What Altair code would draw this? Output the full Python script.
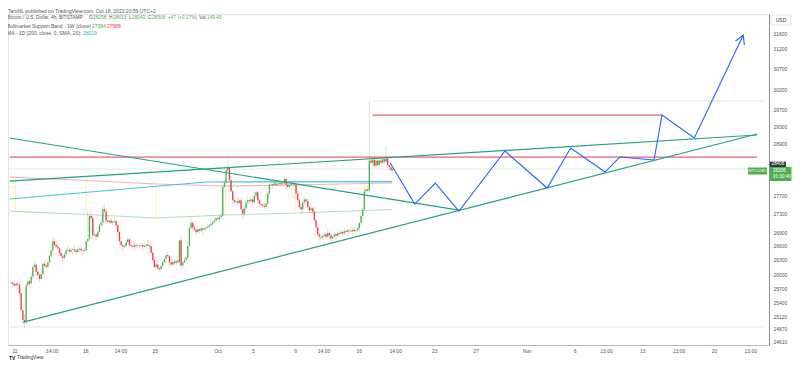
import altair as alt
import pandas as pd

# ---------------- data ----------------
# 4h BTCUSD closes, first candle = Sep 10 16:00 (day -1/3), day 0 = Sep 11 00:00
closes = [
    25820, 25790, 25760, 25800, 25780,
    25600, 25250, 25050, 25000,
    25760, 25850, 25800, 25950,
    26150, 26200,
    26050, 25980, 25900, 26000,
    26220, 26180, 26150, 26250, 26380, 26500,
    26700, 26620, 26580, 26550, 26450, 26380, 26340,
    26420, 26500, 26520,
    26480, 26510, 26530, 26500, 26470, 26520, 26540, 26500, 26490, 26510,
    26700, 26750, 27250, 27200, 26830, 26850, 26800, 26900, 27050, 27100, 27400,
    27350, 27150,
    27120, 27150, 27100, 27130, 27140, 27050,
    26900, 26700, 26620, 26580, 26600, 26680, 26740,
    26620, 26600, 26580, 26620, 26600, 26590,
    26610, 26620, 26580, 26600, 26630, 26610, 26590,
    26450, 26300, 26150, 26200, 26120, 26100, 26170,
    26250, 26320, 26400, 26380, 26250, 26200,
    26260, 26230, 26280, 26250, 26720, 26180,
    26250, 26300, 26350, 26600, 26990, 27100,
    27000, 26950, 26900,
    26960, 26930, 26980, 26950, 26970, 27000, 27020, 27050, 27080, 27120, 27150,
    27200, 27180, 27230, 27260,
    27900, 28000, 28280, 28330,
    28050, 27800, 27600, 27560, 27580, 27540,
    27600, 27400, 27300, 27420, 27550, 27600,
    27580, 27620, 27560, 27700, 27780,
    27600, 27520, 27500, 27480, 27450, 27520, 27750, 27950,
    27960, 27940, 27980, 27950, 27970, 27990, 27960, 27980,
    28080, 27950, 27900, 27940, 27980, 27970, 27960,
    27750, 27600, 27450, 27400, 27550, 27620, 27580,
    27450, 27380, 27420, 27350,
    27160, 27000, 26850, 26800, 26780, 26820,
    26850, 26800, 26880, 26830, 26760, 26800, 26850, 26820,
    26880, 26860, 26900, 26870, 26920, 26900, 26940, 26930, 26910, 26950, 26920, 26940, 26980,
    27100, 27250, 27400, 27800, 27850, 27820,
    28500, 28450, 28520, 28380, 28500,
    28400, 28500, 28450, 28530, 28480,
    28550, 28400, 28350, 28280, 28306,
]
first_open = 25830
# upper / lower wick per candle, in units of 30 USD
wick_hi = ("2131213142" "3121312141" "2131413121" "2121312131" "2121213142"
           "3121214131" "2131213121" "2121312121" "2131212131" "2121312121"
           "3141213141" "2121312121" "3121214121" "5131213121" "2131213121"
           "3121212131" "2121312121" "3121213121" "2131212121" "3121213121"
           "2121312121" "3121313121" "2131212131")
wick_lo = ("1213121312" "1312131213" "1212131212" "1312121312" "1213121213"
           "1312131212" "1213121312" "1212131213" "1312121312" "1213131212"
           "1312131213" "1212131212" "1312121312" "1213121213" "1312131212"
           "1213121312" "1212131213" "1312121312" "1213131212" "1312131213"
           "1212131212" "1312121312" "1213121213")
high_over = {25: 26800, 46: 27350, 55: 27480, 130: 28580, 164: 28150, 215: 29950, 225: 28840}
low_over = {8: 24900, 102: 26120, 174: 27300, 192: 26700}

# drawings (day, price)
desc_day, desc_price = [-0.49, 44.46], [29026, 27383]
lowtl_day, lowtl_price = [0.88, 74.29], [25010, 29120]
uptl_day, uptl_price = [-0.49, 74.29], [28033, 29097]
res1_day, res1_price = [-0.49, 74.29], [28583, 28583]
res2_day, res2_price = [35.82, 64.77], [29571, 29571]
hiray_day, hiray_price = [35.82, 74.98], [29908, 29908]
loray_day, loray_price = [-0.49, 74.98], [24911, 24911]
last_day, last_price = [-0.49, 74.98], [28306, 28306]
band_day = [-0.49, 0.1, 7.16, 14.13, 21.1, 28.07, 35.0, 37.78]
band_red = [28124, 28117, 28044, 27965, 27920, 27943, 27977, 27988]
band_green = [27361, 27354, 27283, 27206, 27272, 27316, 27372, 27394]
ma_day, ma_price = [-0.49, 19.14, 37.78], [27628, 28011, 28019]
proj_day = [37.59, 40.04, 42.10, 44.46, 49.07, 53.29, 55.64, 59.08, 60.55, 63.98, 64.77, 68.01, 72.91]
proj_price = [28444, 27516, 27988, 27361, 28722, 27875, 28792, 28238, 28583, 28514, 29571, 29026, 31549]
arrow_day, arrow_price = [72.13, 72.91, 73.01], [31396, 31549, 31295]

ytick = [31600, 31200, 30700, 30200, 29700, 29300, 28900, 27700, 27300, 26900,
         26600, 26300, 26000, 25700, 25400, 25120, 24870, 24610]
xtick_day = [0, 3.73, 7.07, 10.6, 14.03, 20.31, 23.85, 28.07, 30.91, 34.45, 38.08,
             42.0, 46.12, 51.23, 56.04, 59.18, 62.81, 66.44, 69.97, 73.6]
xtick_lab = ["11", "14:00", "18", "14:00", "25", "Oct", "5", "9", "14:00", "16", "14:00",
             "23", "27", "Nov", "6", "13:00", "13", "13:00", "20", "13:00"]

assert len(closes) == 230 and len(wick_hi) == 230 and len(wick_lo) == 230

# ---------------- build tables ----------------
rows = []
prev = first_open
for i, c in enumerate(closes):
    o = prev
    h = high_over.get(i, max(o, c) + 30 * int(wick_hi[i]))
    l = low_over.get(i, min(o, c) - 30 * int(wick_lo[i]))
    rows.append({"day": -1 / 3 + i / 6, "open": o, "close": c, "high": h, "low": l})
    prev = c
candles = pd.DataFrame(rows)

GREEN, RED, BLUE, TEAL, CYAN = "#4caf50", "#f23645", "#2962ff", "#22a187", "#3fc6dc"
FONT = "Liberation Sans"
W, H = 761, 331

xs = alt.Scale(domain=[-0.15, 74.98], nice=False, zero=False)
ys = alt.Scale(type="log", domain=[24550, 32090], nice=False)


def X(field):
    return alt.X(field, type="quantitative", scale=xs, title=None)


def Y(field):
    return alt.Y(field, type="quantitative", scale=ys, title=None)


def line(days, prices, color, width=1.0, dash=None, opacity=1.0):
    df = pd.DataFrame({"day": days, "price": prices, "i": range(len(days))})
    kw = dict(color=color, strokeWidth=width, opacity=opacity, clip=True)
    if dash:
        kw["strokeDash"] = dash
    return alt.Chart(df).mark_line(**kw).encode(x=X("day"), y=Y("price"), order="i:Q")


expr = "''"
for v, lab in reversed(list(zip(xtick_day, xtick_lab))):
    expr = f"abs(datum.value - {v}) < 0.001 ? '{lab}' : " + expr

updown = alt.condition(alt.datum.close >= alt.datum.open, alt.value(GREEN), alt.value(RED))

layers = []
# invisible layer that carries both axes
layers.append(alt.Chart(candles).mark_point(opacity=0, size=1).encode(
    x=alt.X("day:Q", scale=xs, title=None,
            axis=alt.Axis(values=xtick_day, labelExpr=expr, labelPadding=3.5,
                          domainColor="#b2b5be", orient="bottom")),
    y=alt.Y("close:Q", scale=ys, title=None,
            axis=alt.Axis(values=ytick, format="d", orient="right", labelPadding=4,
                          domainColor="#8a8d96"))))
# faint rays
layers.append(line(loray_day, loray_price, "#d8dae0", 0.8))
layers.append(line(hiray_day, hiray_price, "#d8dae0", 0.8))
layers.append(line(last_day, last_price, "#a5d6a7", 0.8, dash=[1, 1]))

# bull market support band
band = pd.DataFrame({"day": band_day, "r": band_red, "g": band_green})
layers.append(alt.Chart(band.iloc[1:-1]).mark_rule(color="#fff2a8", strokeWidth=1, opacity=0.9).encode(
    x=X("day"), y=Y("r"), y2="g:Q"))
layers.append(line(band_day, band_red, "#f6b0b6", 1.1))
layers.append(line(band_day, band_green, "#b5dfb7", 1.1))
layers.append(line(ma_day, ma_price, CYAN, 1.1))

# horizontal resistance lines
layers.append(line(res1_day, res1_price, "#f0606a", 1.2))
layers.append(line(res2_day, res2_price, "#f0606a", 1.2))

# candles
layers.append(alt.Chart(candles).mark_rule(strokeWidth=0.8, opacity=0.3).encode(
    x=X("day"), y=Y("low"), y2="high:Q", color=updown))
layers.append(alt.Chart(candles).mark_bar(width=1.3, clip=True).encode(
    x=X("day"), y=Y("open"), y2="close:Q", color=updown))

# trend lines
layers.append(line(desc_day, desc_price, TEAL, 1.2))
layers.append(line(lowtl_day, lowtl_price, TEAL, 1.2))
layers.append(line(uptl_day, uptl_price, TEAL, 1.2))

# projection
layers.append(line(proj_day, proj_price, BLUE, 1.1))
layers.append(line(arrow_day, arrow_price, BLUE, 1.1))

one = pd.DataFrame({"a": [0]})


def box(x1, y1, x2, y2, fill, stroke=None):
    kw = dict(color=fill)
    if stroke:
        kw.update(stroke=stroke, strokeWidth=0.6)
    return alt.Chart(one).mark_rect(**kw).encode(
        x=alt.value(x1 - 8), x2=alt.value(x2 - 8), y=alt.value(y1 - 14), y2=alt.value(y2 - 14))


def text(t, px, py, color="#555", size=5, align="left", weight="normal"):
    return alt.Chart(one).mark_text(text=t, color=color, fontSize=size, align=align,
                                    baseline="middle", font=FONT, fontWeight=weight).encode(
        x=alt.value(px - 8), y=alt.value(py - 14))


G = "#555"
layers += [
    text("TaroNL published on TradingView.com, Oct 18, 2023 20:59 UTC+2", 8, 10.5),
    text("Bitcoin / U.S. Dollar, 4h, BITSTAMP", 7, 18, G, 4.8),
    text("O", 89, 18, G, 4.8), text("28258", 93, 18, GREEN, 4.8),
    text("H", 109, 18, G, 4.8), text("28433", 113, 18, GREEN, 4.8),
    text("L", 129, 18, G, 4.8), text("28242", 132, 18, GREEN, 4.8),
    text("C", 148, 18, G, 4.8), text("28306", 152, 18, GREEN, 4.8),
    text("+47 (+0.17%)", 168, 18, GREEN, 4.8),
    text("Vol", 199, 18, G, 4.8), text("149.45", 207, 18, GREEN, 4.8),
    text("Bullmarket Support Band - 1W (close)", 7, 25.5, G),
    text("27394", 92, 25.5, GREEN), text("27988", 107, 25.5, RED),
    text("MA - 1D (200, close, 0, SMA, 20)", 7, 33, G),
    text("28019", 83, 33, "#00bcd4"),
    # right price scale badges
    box(771, 15, 791, 25, "white", "#d1d4dc"),
    text("USD", 781, 20, "#333", align="center"),
    box(770, 161.5, 786, 167, "#363a45"),
    text("28408", 778, 164.3, "white", 4.6, "center"),
    box(770, 167, 791.5, 181, GREEN),
    text("28306", 773, 171, "white", 4.6),
    text("01:00:40", 773, 177, "white", 4.6),
    box(748, 167.5, 767, 174.5, GREEN),
    text("BTCUSD", 757.5, 171, "white", 4.4, "center"),
    # TradingView logo
    text("TV", 9, 357.8, "#131722", 5, weight="bold"),
    text("TradingView", 17, 357.8, "#333", 4.8),
]

chart = alt.layer(*layers).properties(
    width=W, height=H,
    padding={"left": 0, "top": 6, "right": 23, "bottom": 15},
    autosize=alt.AutoSizeParams(type="none"),
    background="white",
).configure_view(stroke="#e0e3eb", strokeWidth=1).configure_axis(
    grid=False, ticks=False, labelFontSize=5, labelColor="#555", labelFont=FONT,
    labelOverlap=False, labelFlush=False, domainColor="#999",
)

chart.save("out.html", embed_options={"renderer": "svg", "actions": False})
